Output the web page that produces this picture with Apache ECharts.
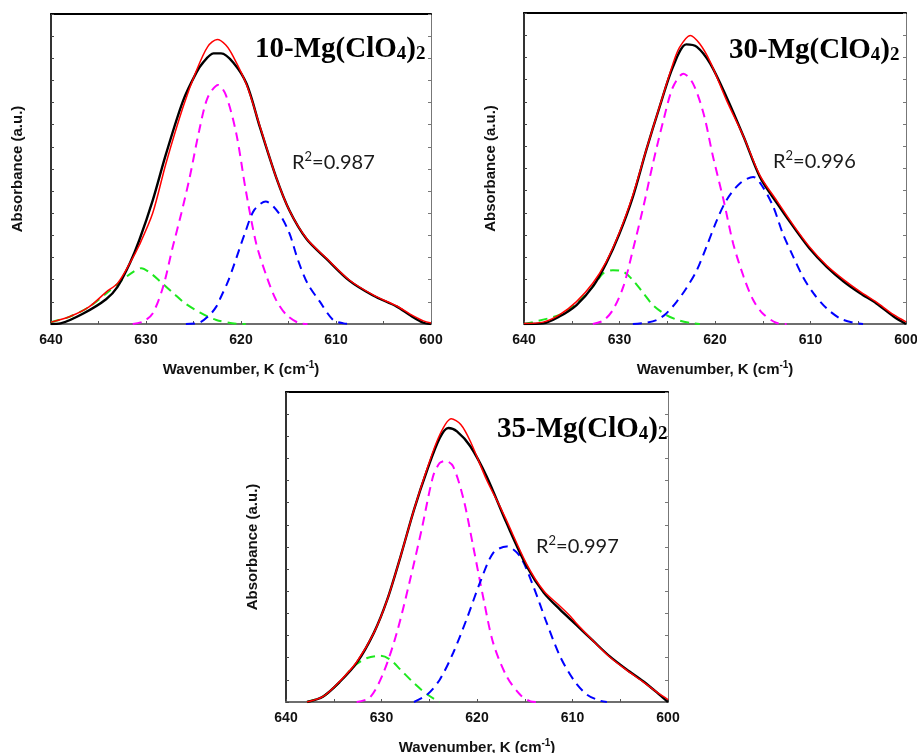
<!DOCTYPE html>
<html>
<head>
<meta charset="utf-8">
<script src="https://cdn.jsdelivr.net/npm/echarts@6/dist/echarts.min.js"></script>
<style>
  html, body { margin: 0; padding: 0; background: #fff; }
  #chart { width: 917px; height: 753px; }
</style>
</head>
<body>
<div id="chart"></div>
<script>
// Wavenumber axis ticks (cm^-1), drawn right-to-left
const xTicks = [640, 630, 620, 610, 600];

// Sample labels and fit quality
const sampleNames = ['10', '30', '35'];
const rSquared = ['0.987', '0.996', '0.997'];

// ---- 10-Mg(ClO4)2 : [wavenumber, absorbance] ----
const mg10Measured = [[640,0],[639,0.2],[636.6,3.4],[634.2,8.0],[633,12.0],[631.7,19.6],[630.7,27.1],[629.3,39.8],[627.9,54.8],[626.1,72.0],[624.7,81.1],[624,84.3],[622.9,87.3],[622.1,87.3],[620.8,84.3],[619.4,77.4],[618,63.4],[616.3,47.3],[614.9,36.6],[613.1,27.4],[611,21.0],[608.6,14.0],[606.1,9.2],[603.6,5.6],[602.2,2.8],[600.8,0.4],[600,0]];
const mg10Fit = [[640,0.6],[638,2.4],[636,5.5],[634.2,10.3],[633,13.1],[631.7,19.6],[630.7,25.5],[629.3,35.7],[627.9,51.8],[626.1,70],[624.7,81.7],[623.5,89.5],[622.5,91.8],[621.6,90],[620.8,86.2],[619.4,77.1],[618,63.7],[616.3,47.3],[614.9,36.6],[613.1,27.6],[611,21.2],[608.6,14.2],[606.1,9.4],[603.6,5.8],[602.2,3.2],[600.8,1.0],[600,0.3]];
const mg10PeakA = [[640,0.6],[638,2.4],[636,5.5],[634,10.3],[632.5,14.2],[631.3,16.9],[630.5,18],[629.4,16.1],[628.5,13.7],[627.1,9.9],[625.9,6.7],[624.3,3.7],[622.6,1.3],[620.5,0.1],[619.5,0]];
const mg10PeakB = [[631.4,0],[630.3,0.8],[629.3,3.4],[628.2,12.0],[627.2,24.7],[626.3,35.5],[625.4,47.3],[624.4,62.4],[623.5,73.1],[622.4,77.1],[621.6,73.9],[620.5,61.5],[619.5,43.2],[618.4,26.0],[617.3,15.3],[616.3,7.7],[615.2,2.9],[613.8,0.2],[613,0]];
const mg10PeakC = [[625.8,0],[624.4,0.4],[623.3,2.9],[622.6,5.6],[622.1,8.8],[621.4,13.5],[620.8,18.5],[619.6,29.2],[618.6,36.8],[617.4,39.5],[616,35.7],[614.9,29.2],[614,20.6],[613,13.1],[611.7,7.2],[610.3,1.3],[609.2,0.2],[608.2,0]];

// ---- 30-Mg(ClO4)2 ----
const mg30Measured = [[640,0],[638,0.2],[636.3,2.4],[634.5,6.1],[632.8,12],[631.4,19.5],[630,29.1],[628.6,40.9],[627.2,55.9],[625.8,69.8],[624.4,82.7],[623,89.9],[621.9,89.1],[620.5,83.7],[618.8,73],[617,60.2],[615.3,47.3],[613.5,38.8],[611.8,31.3],[610.1,24.3],[608.3,18.4],[606.5,13.6],[604.8,9.9],[603.1,6.6],[601.3,2.4],[600,0]];
const mg30Fit = [[640,0.2],[638,0.6],[636.3,2.9],[634.5,7.2],[632.8,13.1],[631.4,20],[630,29.5],[628.6,41.5],[627.2,56],[625.8,70],[624.4,83.7],[623.7,89],[622.6,92.8],[621.6,90.1],[620.5,84.3],[618.8,72],[617,60.2],[615.3,47.8],[613.5,39.5],[611.8,31.8],[610.1,24.8],[608.3,18.8],[606.5,14.2],[604.8,10.4],[603.1,7],[601.3,3],[600,0.7]];
const mg30PeakA = [[640,0],[636.3,2.9],[634.5,6.6],[632.8,12],[631.7,16.3],[630.7,17.3],[629.6,16.8],[628.6,14.1],[627.5,9.9],[626.5,6.1],[625.1,2.9],[623.7,1.1],[622.3,0.2],[621.6,0]];
const mg30PeakB = [[632.8,0],[631.7,1.1],[630.7,4.5],[629.6,12],[628.6,23.8],[627.5,37.7],[626.5,51.6],[625.4,65.5],[624.4,76.2],[623.3,80.5],[622.3,77.3],[621.2,67.7],[620.2,53.7],[619.1,39.8],[618.1,25.9],[617,15.2],[616,7.7],[615,3.4],[613.6,0.4],[612.5,0]];
const mg30PeakC = [[628.6,0],[627.2,0.4],[626.1,1.3],[625.1,3.4],[624,7.2],[623,11.5],[621.9,17.3],[620.9,24.8],[619.8,33.4],[618.8,39.8],[617.4,45.2],[616,47.3],[615,44.1],[613.9,37.7],[612.9,29.1],[611.8,21.6],[610.8,15.2],[609.7,9.9],[608.3,5],[606.9,1.8],[605.5,0.4],[604.5,0]];

// ---- 35-Mg(ClO4)2 ----
const mg35Measured = [[637.8,0],[636.1,1.8],[634.3,6.7],[632.6,12.6],[630.8,22.3],[629.4,33],[628,47],[626.6,62],[625.2,75],[623.9,85.2],[623,88.4],[622.1,87.3],[620.7,82.5],[619,72.8],[616.9,57.7],[614.8,43.8],[613,35.2],[611.3,29.8],[609.6,24.9],[607.8,19.6],[606.1,14.7],[604.3,10.4],[602.6,6.7],[600.9,2.4],[600,0]];
const mg35Fit = [[637.8,0],[636.1,1.8],[634.3,6.9],[632.6,12.9],[630.8,22.3],[629.4,33],[628,47],[626.6,62],[625.2,75.5],[623.9,86.2],[622.7,91.4],[621.7,89.5],[620.7,84.1],[619,71.7],[617.6,63.1],[616.9,58.5],[614.8,44.5],[613,35.8],[611.3,30.9],[610.2,27.6],[609.6,25.4],[607.8,19.6],[606.1,14.5],[604.3,10.2],[602.6,6.5],[600.9,2.6],[600,0.8]];
const mg35PeakA = [[637.8,0],[636.1,1.8],[634.3,6.7],[632.9,11.5],[631.5,14.2],[630.1,14.9],[629.1,13.7],[628,10.4],[626.6,6.1],[625.2,2.4],[623.9,0]];
const mg35PeakB = [[632.6,0],[631.2,1.5],[629.8,9.4],[628.4,22.3],[627,39.5],[625.8,55.6],[624.6,72.8],[623.9,77.1],[623.3,77.8],[622.5,76],[621.4,65.3],[620.4,50.2],[619.3,33],[618.3,19],[616.9,8.3],[615.5,2.4],[614.4,0.2],[613.7,0]];
const mg35PeakC = [[626.6,0],[625.2,2.4],[623.9,7.2],[622.5,15.8],[621.1,26.6],[619.7,38.4],[618.3,48.1],[616.9,50.2],[615.5,47],[614.1,37.3],[612.7,25.5],[611.3,14.7],[609.9,7.2],[608.5,2.4],[607.1,0.4],[606.4,0]];

const panels = [
  { measured: mg10Measured, fit: mg10Fit, peaks: [mg10PeakA, mg10PeakB, mg10PeakC],
    grid: { left: 51, top: 14, width: 380, height: 310 },
    titlePos: { left: 255, top: 32 }, r2Pos: { left: 292, top: 150 } },
  { measured: mg30Measured, fit: mg30Fit, peaks: [mg30PeakA, mg30PeakB, mg30PeakC],
    grid: { left: 524, top: 13, width: 382, height: 311 },
    titlePos: { left: 729, top: 33 }, r2Pos: { left: 773, top: 149 } },
  { measured: mg35Measured, fit: mg35Fit, peaks: [mg35PeakA, mg35PeakB, mg35PeakC],
    grid: { left: 286, top: 392, width: 382, height: 310 },
    titlePos: { left: 497, top: 412 }, r2Pos: { left: 536, top: 534 } }
];

const peakColors = ['#1ee81e', '#ff00ff', '#0000ff'];
const sansBold = { fontFamily: 'Liberation Sans', fontWeight: 'bold', color: '#111' };

const grids = [], xAxes = [], yAxes = [], series = [], titles = [];

panels.forEach((p, i) => {
  grids.push(Object.assign({ containLabel: false, outerBoundsMode: 'none' }, p.grid));

  // bottom wavenumber axis
  xAxes.push({
    type: 'value', gridIndex: i, position: 'bottom', inverse: true,
    min: 600, max: 640, interval: 5,
    axisLine: { show: true, onZero: false, lineStyle: { color: '#6e6e6e', width: 2 } },
    axisTick: { show: true, inside: true, length: 3, lineStyle: { color: '#555', width: 1 } },
    axisLabel: {
      margin: 9, fontSize: 14, ...sansBold,
      formatter: v => (xTicks.indexOf(v) >= 0 ? String(v) : '')
    },
    splitLine: { show: false },
    name: 'Wavenumber, K (cm{sup|-1})', nameLocation: 'middle', nameGap: 36,
    nameTextStyle: {
      fontSize: 15, ...sansBold, lineHeight: 20,
      rich: { sup: { fontSize: 10, fontFamily: 'Liberation Sans', fontWeight: 'bold', color: '#111', verticalAlign: 'top', lineHeight: 12 } }
    }
  });
  // top frame edge
  xAxes.push({
    type: 'value', gridIndex: i, position: 'top', inverse: true,
    min: 600, max: 640,
    axisLine: { show: true, onZero: false, lineStyle: { color: '#000', width: 2 } },
    axisTick: { show: false }, axisLabel: { show: false }, splitLine: { show: false }
  });
  // left absorbance axis
  yAxes.push({
    type: 'value', gridIndex: i, position: 'left', min: 0, max: 100, interval: 100 / 14,
    axisLine: { show: true, onZero: false, lineStyle: { color: '#333', width: 2 } },
    axisTick: { show: true, inside: true, length: 3, lineStyle: { color: '#444', width: 1 } },
    axisLabel: { show: false }, splitLine: { show: false },
    name: 'Absorbance (a.u.)', nameLocation: 'middle', nameGap: 26,
    nameTextStyle: { fontSize: 15, ...sansBold }
  });
  // right frame edge
  yAxes.push({
    type: 'value', gridIndex: i, position: 'right', min: 0, max: 100, interval: 100 / 14,
    axisLine: { show: true, onZero: false, lineStyle: { color: '#777', width: 1 } },
    axisTick: { show: true, inside: true, length: 3, lineStyle: { color: '#777', width: 1 } },
    axisLabel: { show: false }, splitLine: { show: false }
  });

  const xi = i * 2, yi = i * 2;
  const base = { type: 'line', xAxisIndex: xi, yAxisIndex: yi, showSymbol: false,
                 smooth: 0.3, silent: true, animation: false, clip: true };

  p.peaks.forEach((pk, k) => {
    series.push(Object.assign({}, base, {
      data: pk, z: 2,
      lineStyle: { color: peakColors[k], width: 2, type: [9, 6] }
    }));
  });
  series.push(Object.assign({}, base, { data: p.measured, z: 3, lineStyle: { color: '#000', width: 2.4 } }));
  series.push(Object.assign({}, base, { data: p.fit, z: 4, lineStyle: { color: '#ff0000', width: 1.5 } }));

  titles.push({
    text: '{n|' + sampleNames[i] + '-Mg(ClO}{s|4}{n|)}{s|2}',
    left: p.titlePos.left, top: p.titlePos.top, padding: 0,
    textStyle: {
      rich: {
        n: { fontFamily: 'Liberation Serif', fontWeight: 'bold', fontSize: 29, color: '#000', lineHeight: 32, verticalAlign: 'bottom' },
        s: { fontFamily: 'Liberation Serif', fontWeight: 'bold', fontSize: 19, color: '#000', lineHeight: 16, verticalAlign: 'bottom' }
      }
    }
  });
  titles.push({
    text: '{r|R}{p|2}{r|=' + rSquared[i] + '}',
    left: p.r2Pos.left, top: p.r2Pos.top, padding: 0,
    textStyle: {
      fontWeight: 'normal',
      rich: {
        r: { fontFamily: 'Lato', fontWeight: 'normal', fontSize: 20, color: '#1a1a1a', lineHeight: 26 },
        p: { fontFamily: 'Lato', fontWeight: 'normal', fontSize: 13, color: '#1a1a1a', lineHeight: 14, verticalAlign: 'top' }
      }
    }
  });
});

const chart = echarts.init(document.getElementById('chart'), null, { renderer: 'canvas' });
chart.setOption({
  backgroundColor: '#fff',
  animation: false,
  title: titles,
  grid: grids,
  xAxis: xAxes,
  yAxis: yAxes,
  series: series
});
</script>
</body>
</html>
